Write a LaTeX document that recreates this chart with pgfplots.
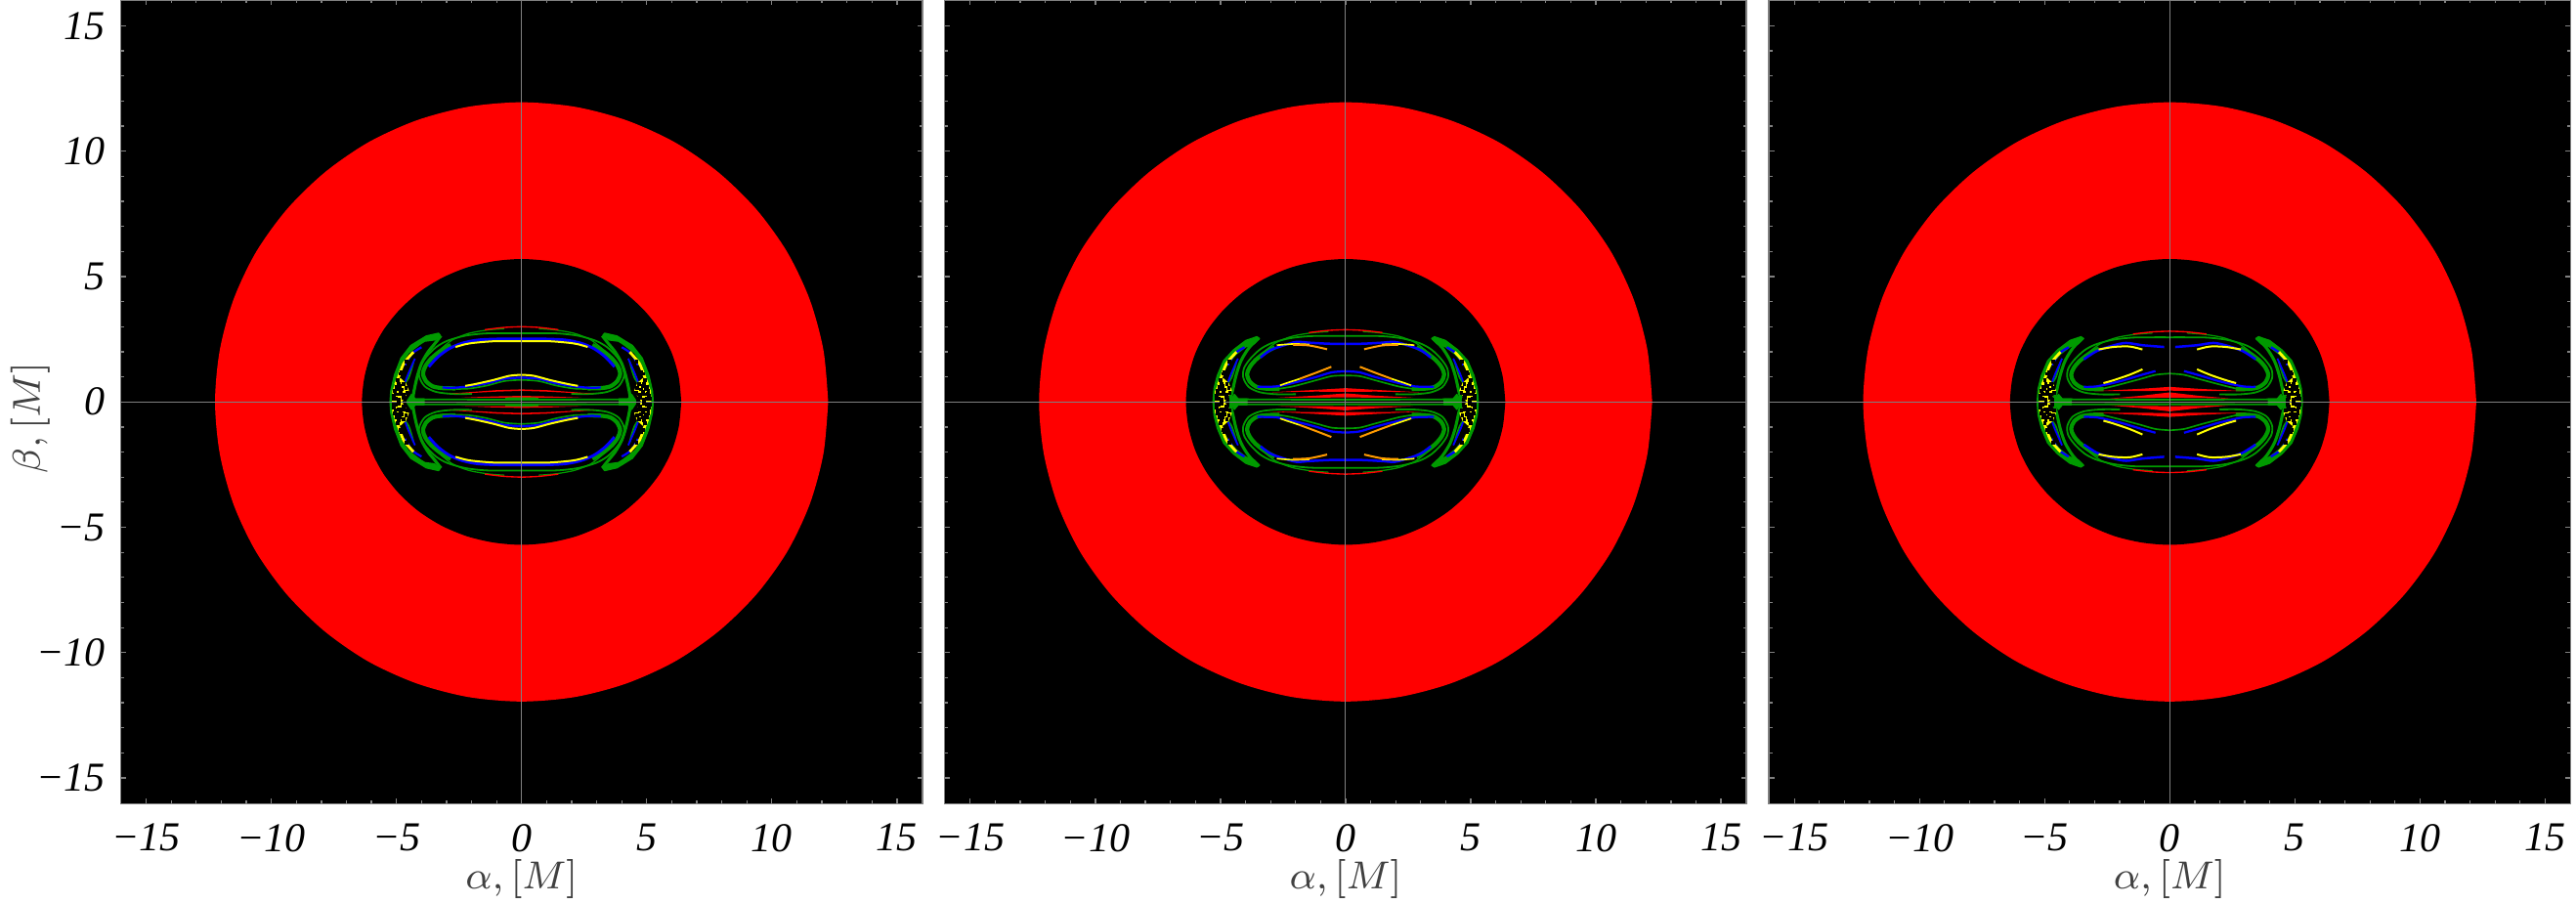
\documentclass[border=0pt]{standalone}
\usepackage{fontspec}
\setmainfont{Liberation Serif}
\usepackage{pgfplots}
\usepackage{pgfplotstable}
\pgfplotsset{compat=1.18}

\definecolor{pgreen}{HTML}{009A00}
\definecolor{pblue}{HTML}{0000FF}
\definecolor{pyellow}{HTML}{FFFF00}
\definecolor{porange}{HTML}{FF9A00}
\definecolor{pred}{HTML}{FF0000}
\definecolor{pgray}{HTML}{808080}

% outer edge of the red ring
\pgfplotstableread{
x y
12.25 0
12.06 2.07
11.51 4.09
10.61 5.98
9.38 7.68
7.87 9.15
6.13 10.35
4.19 11.23
2.13 11.77
0 11.95
-2.13 11.77
-4.19 11.23
-6.13 10.35
-7.87 9.15
-9.38 7.68
-10.61 5.98
-11.51 4.09
-12.06 2.07
-12.25 0
-12.06 -2.07
-11.51 -4.09
-10.61 -5.98
-9.38 -7.68
-7.87 -9.15
-6.13 -10.35
-4.19 -11.23
-2.13 -11.77
0 -11.95
2.13 -11.77
4.19 -11.23
6.13 -10.35
7.87 -9.15
9.38 -7.68
10.61 -5.98
11.51 -4.09
12.06 -2.07
12.25 0
}\tOuter
% inner edge of the red ring
\pgfplotstableread{
x y
6.38 0
6.28 0.99
6.00 1.95
5.53 2.85
4.89 3.66
4.10 4.37
3.19 4.94
2.18 5.36
1.11 5.61
0 5.70
-1.11 5.61
-2.18 5.36
-3.19 4.94
-4.10 4.37
-4.89 3.66
-5.53 2.85
-6.00 1.95
-6.28 0.99
-6.38 0
-6.28 -0.99
-6.00 -1.95
-5.53 -2.85
-4.89 -3.66
-4.10 -4.37
-3.19 -4.94
-2.18 -5.36
-1.11 -5.61
0 -5.70
1.11 -5.61
2.18 -5.36
3.19 -4.94
4.10 -4.37
4.89 -3.66
5.53 -2.85
6.00 -1.95
6.28 -0.99
6.38 0
}\tInner

% green crescents, one quadrant
\pgfplotstableread{
x y
-5.26 0
-5.23 0.43
-5.08 1.08
-4.82 1.75
-4.43 2.25
-3.81 2.63
-3.32 2.74
-3.25 2.66
-3.48 2.47
-3.87 2.42
-4.06 2.30
-4.52 1.95
-4.84 1.47
-4.99 0.95
-5.06 0.62
-5.10 0
}\tCresA
\pgfplotstableread{
x y
-5.30 0
-5.26 0.53
-5.13 1.05
-4.88 1.64
-4.49 2.07
-3.99 2.45
-3.55 2.60
-3.44 2.53
-3.65 2.32
-3.98 2.20
-4.38 1.90
-4.74 1.47
-5.02 0.95
-5.11 0.53
-5.15 0
}\tCresB
\pgfplotstableread{
x y
-3.22 2.64
-3.48 2.31
-3.74 1.99
-4.00 1.53
-4.17 1.01
-4.30 0.43
-4.35 0.10
}\tTailA
\pgfplotstableread{
x y
-3.47 2.55
-3.86 2.16
-4.18 1.64
-4.38 1.05
-4.53 0.40
-4.64 0.08
}\tTailB
\pgfplotstableread{
x y
-4.32 1.60
-4.52 0.95
-4.84 0.56
-5.17 0.23
}\tLobeIn
\pgfplotstableread{
x y
-4.60 0
-4.40 0.30
-4.25 0.12
-3.90 0.12
-3.90 0
}\tHub
\pgfplotstableread{
x y
-4.35 0.10
0 0.09
}\tHor
\pgfplotstableread{
x y
-0.65 0.16
0 0.16
}\tHorC

% bands round the kidney shaped holes
\pgfplotstableread{
x y
-2.64 0.54
-3.16 0.55
-3.55 0.62
-3.83 0.84
-3.94 1.14
-3.84 1.43
-3.61 1.73
-3.22 2.05
-2.83 2.27
}\tBand
\pgfplotstableread{
x y
-1.99 0.32
-2.77 0.32
-3.42 0.40
-3.87 0.62
-4.09 1.01
-4.06 1.40
-3.81 1.79
-3.42 2.18
-2.96 2.44
-2.25 2.64
-1.47 2.73
-0.69 2.74
0 2.74
}\tRim
\pgfplotstableread{
x y
-3.22 2.12
-2.77 2.47
-2.12 2.73
-1.34 2.87
-0.69 2.92
}\tRimOut
\pgfplotstableread{
x y
-1.47 2.88
-0.69 2.97
0 3.00
}\tRimRed

% blue and yellow arcs, patch and speckles in the crescents
\pgfplotstableread{
x y
-4.00 2.18
-4.39 1.92
-4.65 1.47
}\tLobeBlueA
\pgfplotstableread{
x y
-4.26 1.73
-4.52 1.14
-4.65 0.80
}\tLobeBlueB
\pgfplotstableread{
x y
-4.32 1.99
-4.71 1.53
-4.91 1.01
-5.04 0.69
}\tLobeYelA
\pgfplotstableread{
x y
-5.18 0
-5.17 0.43
-5.04 0.75
-4.84 0.95
-4.62 0.75
-4.50 0.45
-4.78 0
}\tPatch
\pgfplotstableread{
x y
-5.02 0.12
-4.92 0.30
-4.72 0.18
-5.07 0.45
-4.78 0.50
-4.62 0.55
-4.90 0.72
-4.58 0.35
-4.66 0.10
-4.95 0.50
-5.10 0.24
-4.80 0.30
-4.52 1.55
-4.78 1.20
-4.94 0.86
}\tSpeckDark
\pgfplotstableread{
x y
-4.60 1.62
-4.84 1.12
-5.00 0.60
-5.12 0.12
-4.90 0.08
-4.84 0.42
-4.70 0.30
-4.85 0.62
-4.70 0.70
-5.05 0.32
}\tSpeckBlue

% panel 1
\pgfplotstableread{
x y
0 2.51
-0.82 2.51
-1.73 2.47
-2.38 2.34
-2.90 2.12
-3.35 1.79
-3.71 1.40
}\tOneBlueT
\pgfplotstableread{
x y
0 2.42
-1.08 2.42
-1.86 2.36
-2.25 2.30
-2.64 2.19
}\tOneYelT
\pgfplotstableread{
x y
0 1.08
-0.49 1.04
-1.14 0.87
-1.86 0.71
-2.25 0.64
}\tOneYelL
\pgfplotstableread{
x y
0 0.97
-0.69 0.92
-1.34 0.75
-2.12 0.62
-2.77 0.56
-3.16 0.58
}\tOneBlueL
\pgfplotstableread{
x y
0 0.88
-0.69 0.83
-1.40 0.65
-2.12 0.53
-2.70 0.52
}\tOneGrnL
\pgfplotstableread{
x y
-2.90 0.33
-1.95 0.40
-1.00 0.47
0 0.50
0 0.44
-1.00 0.41
-1.95 0.36
}\tOneRedA
\pgfplotstableread{
x y
-2.40 0.17
-1.10 0.22
0 0.24
0 0.18
-1.10 0.17
}\tOneRedB

% panel 2
\pgfplotstableread{
x y
0 2.31
-0.68 2.32
-1.45 2.36
-1.97 2.39
-2.49 2.25
-3.01 2.06
-3.40 1.77
}\tTwoBlueT
\pgfplotstableread{
x y
-2.75 2.26
-2.10 2.31
-1.45 2.29
}\tTwoYelT
\pgfplotstableread{
x y
-2.10 2.28
-1.45 2.25
-0.74 2.10
}\tTwoOrgT
\pgfplotstableread{
x y
-0.55 2.05
-0.30 1.99
}\tTwoDots
\pgfplotstableread{
x y
-0.57 1.40
-1.19 1.16
-1.84 0.92
}\tTwoOrgL
\pgfplotstableread{
x y
-1.84 0.92
-2.36 0.75
-2.62 0.66
}\tTwoYelL
\pgfplotstableread{
x y
0 1.22
-0.55 1.18
-1.19 0.99
-1.97 0.79
-2.75 0.62
-3.53 0.60
}\tTwoBlueL
\pgfplotstableread{
x y
0 1.05
-0.55 1.03
-1.19 0.86
-2.10 0.62
-2.70 0.52
}\tTwoGrnL
\pgfplotstableread{
x y
-3.10 0.38
-1.20 0.48
0 0.55
0 0.40
-1.20 0.41
}\tTwoRedA
\pgfplotstableread{
x y
-2.70 0.17
-1.20 0.25
0 0.34
0 0.18
-1.20 0.17
}\tTwoRedB

% panel 3
\pgfplotstableread{
x y
-0.22 2.19
-1.09 2.26
-1.74 2.35
-2.26 2.25
-2.91 2.03
-3.43 1.70
}\tThrBlueT
\pgfplotstableread{
x y
-2.84 2.09
-2.26 2.19
-1.61 2.21
-1.09 2.09
}\tThrYelT
\pgfplotstableread{
x y
-0.96 2.00
-0.73 1.88
-0.60 1.74
-0.68 1.57
}\tThrDots
\pgfplotstableread{
x y
-1.09 1.30
-1.61 1.08
-2.26 0.86
-2.65 0.75
}\tThrYelL
\pgfplotstableread{
x y
-0.57 1.23
-1.22 1.05
-2.00 0.82
-2.91 0.62
-3.43 0.60
}\tThrBlueL
\pgfplotstableread{
x y
0 1.13
-0.57 1.08
-1.22 0.90
-2.13 0.66
-2.70 0.52
}\tThrGrnL
\pgfplotstableread{
x y
-3.00 0.43
-1.20 0.52
0 0.60
0 0.45
-1.20 0.43
}\tThrRedA
\pgfplotstableread{
x y
-2.40 0.14
-1.20 0.24
0 0.38
0 0.17
-1.20 0.16
}\tThrRedB

% one table, drawn in all four quadrants: style, table, x scale, y scale
\newcommand{\four}[4]{%
  \addplot[#1] table[x expr=\thisrow{x}*#3,y expr=\thisrow{y}*#4] {#2};
  \addplot[#1] table[x expr=-1*\thisrow{x}*#3,y expr=\thisrow{y}*#4] {#2};
  \addplot[#1] table[x expr=\thisrow{x}*#3,y expr=-1*\thisrow{y}*#4] {#2};
  \addplot[#1] table[x expr=-1*\thisrow{x}*#3,y expr=-1*\thisrow{y}*#4] {#2};
}
\tikzset{
  gfill/.style={fill=pgreen,draw=pgreen,line width=0.25pt,line join=round},
  yfill/.style={fill=pyellow,draw=none},
  rfill/.style={fill=pred,draw=none},
  gline/.style={pgreen,line width=#1,line join=round,smooth},
  bline/.style={pblue,line width=#1,line join=round,smooth},
  yline/.style={pyellow,line width=#1,line join=round,smooth},
  oline/.style={porange,line width=#1,line join=round,smooth},
  rline/.style={pred,line width=#1,line join=round,smooth},
  speck/.style={only marks,mark=square*,mark size=0.18pt,mark options={draw=none,fill=#1}},
}
% ring and the parts that the three panels share:
% y scale, x scale of the arcs, crescent table, tail table
\newcommand{\shared}[4]{%
  \addplot[fill=pred,draw=none,smooth] table[x=x,y=y] {\tOuter};
  \addplot[fill=black,draw=none,smooth] table[x=x,y=y] {\tInner};
  \four{gfill}{#3}{1}{1}
  \four{gline=0.62pt}{#4}{1}{1}
  \four{gline=0.85pt}{\tBand}{1}{#1}
  \four{gline=0.36pt}{\tRim}{1}{#1}
  \four{gline=0.25pt}{\tRimOut}{1}{#1}
  \four{rline=0.27pt}{\tRimRed}{1}{#1}
  \four{gfill}{\tHub}{#2}{1}
  \four{gline=0.38pt}{\tHor}{1}{1}
  \four{gline=0.36pt}{\tLobeIn}{#2}{1}
  \four{bline=0.45pt}{\tLobeBlueA}{#2}{1}
  \four{bline=0.36pt}{\tLobeBlueB}{#2}{1}
  \four{yline=0.55pt}{\tLobeYelA}{#2}{1}
  \four{yfill}{\tPatch}{#2}{1}
  \four{speck=pgreen}{\tSpeckDark}{#2}{1}
  \four{speck=pblue}{\tSpeckBlue}{#2}{1}
}
\newcommand{\cross}{%
  \addplot[pgray,line width=0.2pt] coordinates {(-16,0) (16,0)};
  \addplot[pgray,line width=0.2pt] coordinates {(0,-16) (0,16)};
}

\pgfplotsset{
  panel/.style={
    scale only axis,
    width=164.1pt, height=164.5pt,
    anchor=south west,
    xmin=-16.02, xmax=16.02,
    ymin=-16.03, ymax=16.03,
    axis background/.style={fill=black},
    axis on top,
    axis line style={pgray,line width=0.3pt},
    tick style={pgray,line width=0.25pt},
    tick align=inside,
    major tick length=1.1pt,
    minor tick length=0.7pt,
    minor tick num=4,
    xtick={-15,-10,-5,0,5,10,15},
    ytick={-15,-10,-5,0,5,10,15},
    xticklabels={−15,−10,−5,0,5,10,15},
    ticklabel style={font=\fontsize{8.4}{9}\selectfont\itshape},
    xticklabel style={yshift=-0.6pt},
    xlabel={$\alpha,[M]$},
    xlabel style={font=\fontsize{7.8}{9}\selectfont,text=black!75,at={(axis description cs:0.5,0)},anchor=base,yshift=-17.3pt},
  },
}

\begin{document}
\begin{tikzpicture}
\useasboundingbox (0,0) rectangle (527.2pt,184.8pt);

\begin{axis}[panel,at={(24.7pt,20.3pt)},
  yticklabels={−15,−10,−5,0,5,10,15},
  yticklabel style={xshift=0.4pt},
  ylabel={$\beta,[M]$},
  ylabel style={font=\fontsize{7.8}{9}\selectfont,text=black!75,at={(axis description cs:0,0.48)},anchor=base,yshift=16.5pt},
]
  \shared{1}{1}{\tCresA}{\tTailA}
  \four{gline=0.38pt}{\tHorC}{1}{1}
  \four{gline=0.33pt}{\tOneGrnL}{1}{1}
  \four{bline=0.58pt}{\tOneBlueT}{1}{1}
  \four{bline=0.45pt}{\tOneBlueL}{1}{1}
  \four{yline=0.4pt}{\tOneYelT}{1}{1}
  \four{yline=0.4pt}{\tOneYelL}{1}{1}
  \four{rfill}{\tOneRedA}{1}{1}
  \four{rfill}{\tOneRedB}{1}{1}
  \cross
\end{axis}

\begin{axis}[panel,at={(193.34pt,20.3pt)},yticklabels={}]
  \shared{0.96}{1.01}{\tCresB}{\tTailB}
  \four{gline=0.33pt}{\tTwoGrnL}{1}{1}
  \four{bline=0.5pt}{\tTwoBlueT}{1}{1}
  \four{bline=0.45pt}{\tTwoBlueL}{1}{1}
  \four{yline=0.33pt}{\tTwoYelT}{1}{1}
  \four{yline=0.33pt}{\tTwoYelL}{1}{1}
  \four{oline=0.4pt}{\tTwoOrgT}{1}{1}
  \four{oline=0.4pt}{\tTwoOrgL}{1}{1}
  \four{speck=porange}{\tTwoDots}{1}{1}
  \four{rfill}{\tTwoRedA}{1}{1}
  \four{rfill}{\tTwoRedB}{1}{1}
  \cross
\end{axis}

\begin{axis}[panel,at={(362pt,20.3pt)},yticklabels={}]
  \shared{0.94}{1.01}{\tCresB}{\tTailB}
  \four{gline=0.33pt}{\tThrGrnL}{1}{1}
  \four{bline=0.5pt}{\tThrBlueT}{1}{1}
  \four{bline=0.45pt}{\tThrBlueL}{1}{1}
  \four{yline=0.4pt}{\tThrYelT}{1}{1}
  \four{yline=0.4pt}{\tThrYelL}{1}{1}
  \four{speck=pyellow}{\tThrDots}{1}{1}
  \four{rfill}{\tThrRedA}{1}{1}
  \four{rfill}{\tThrRedB}{1}{1}
  \cross
\end{axis}
\end{tikzpicture}
\end{document}
